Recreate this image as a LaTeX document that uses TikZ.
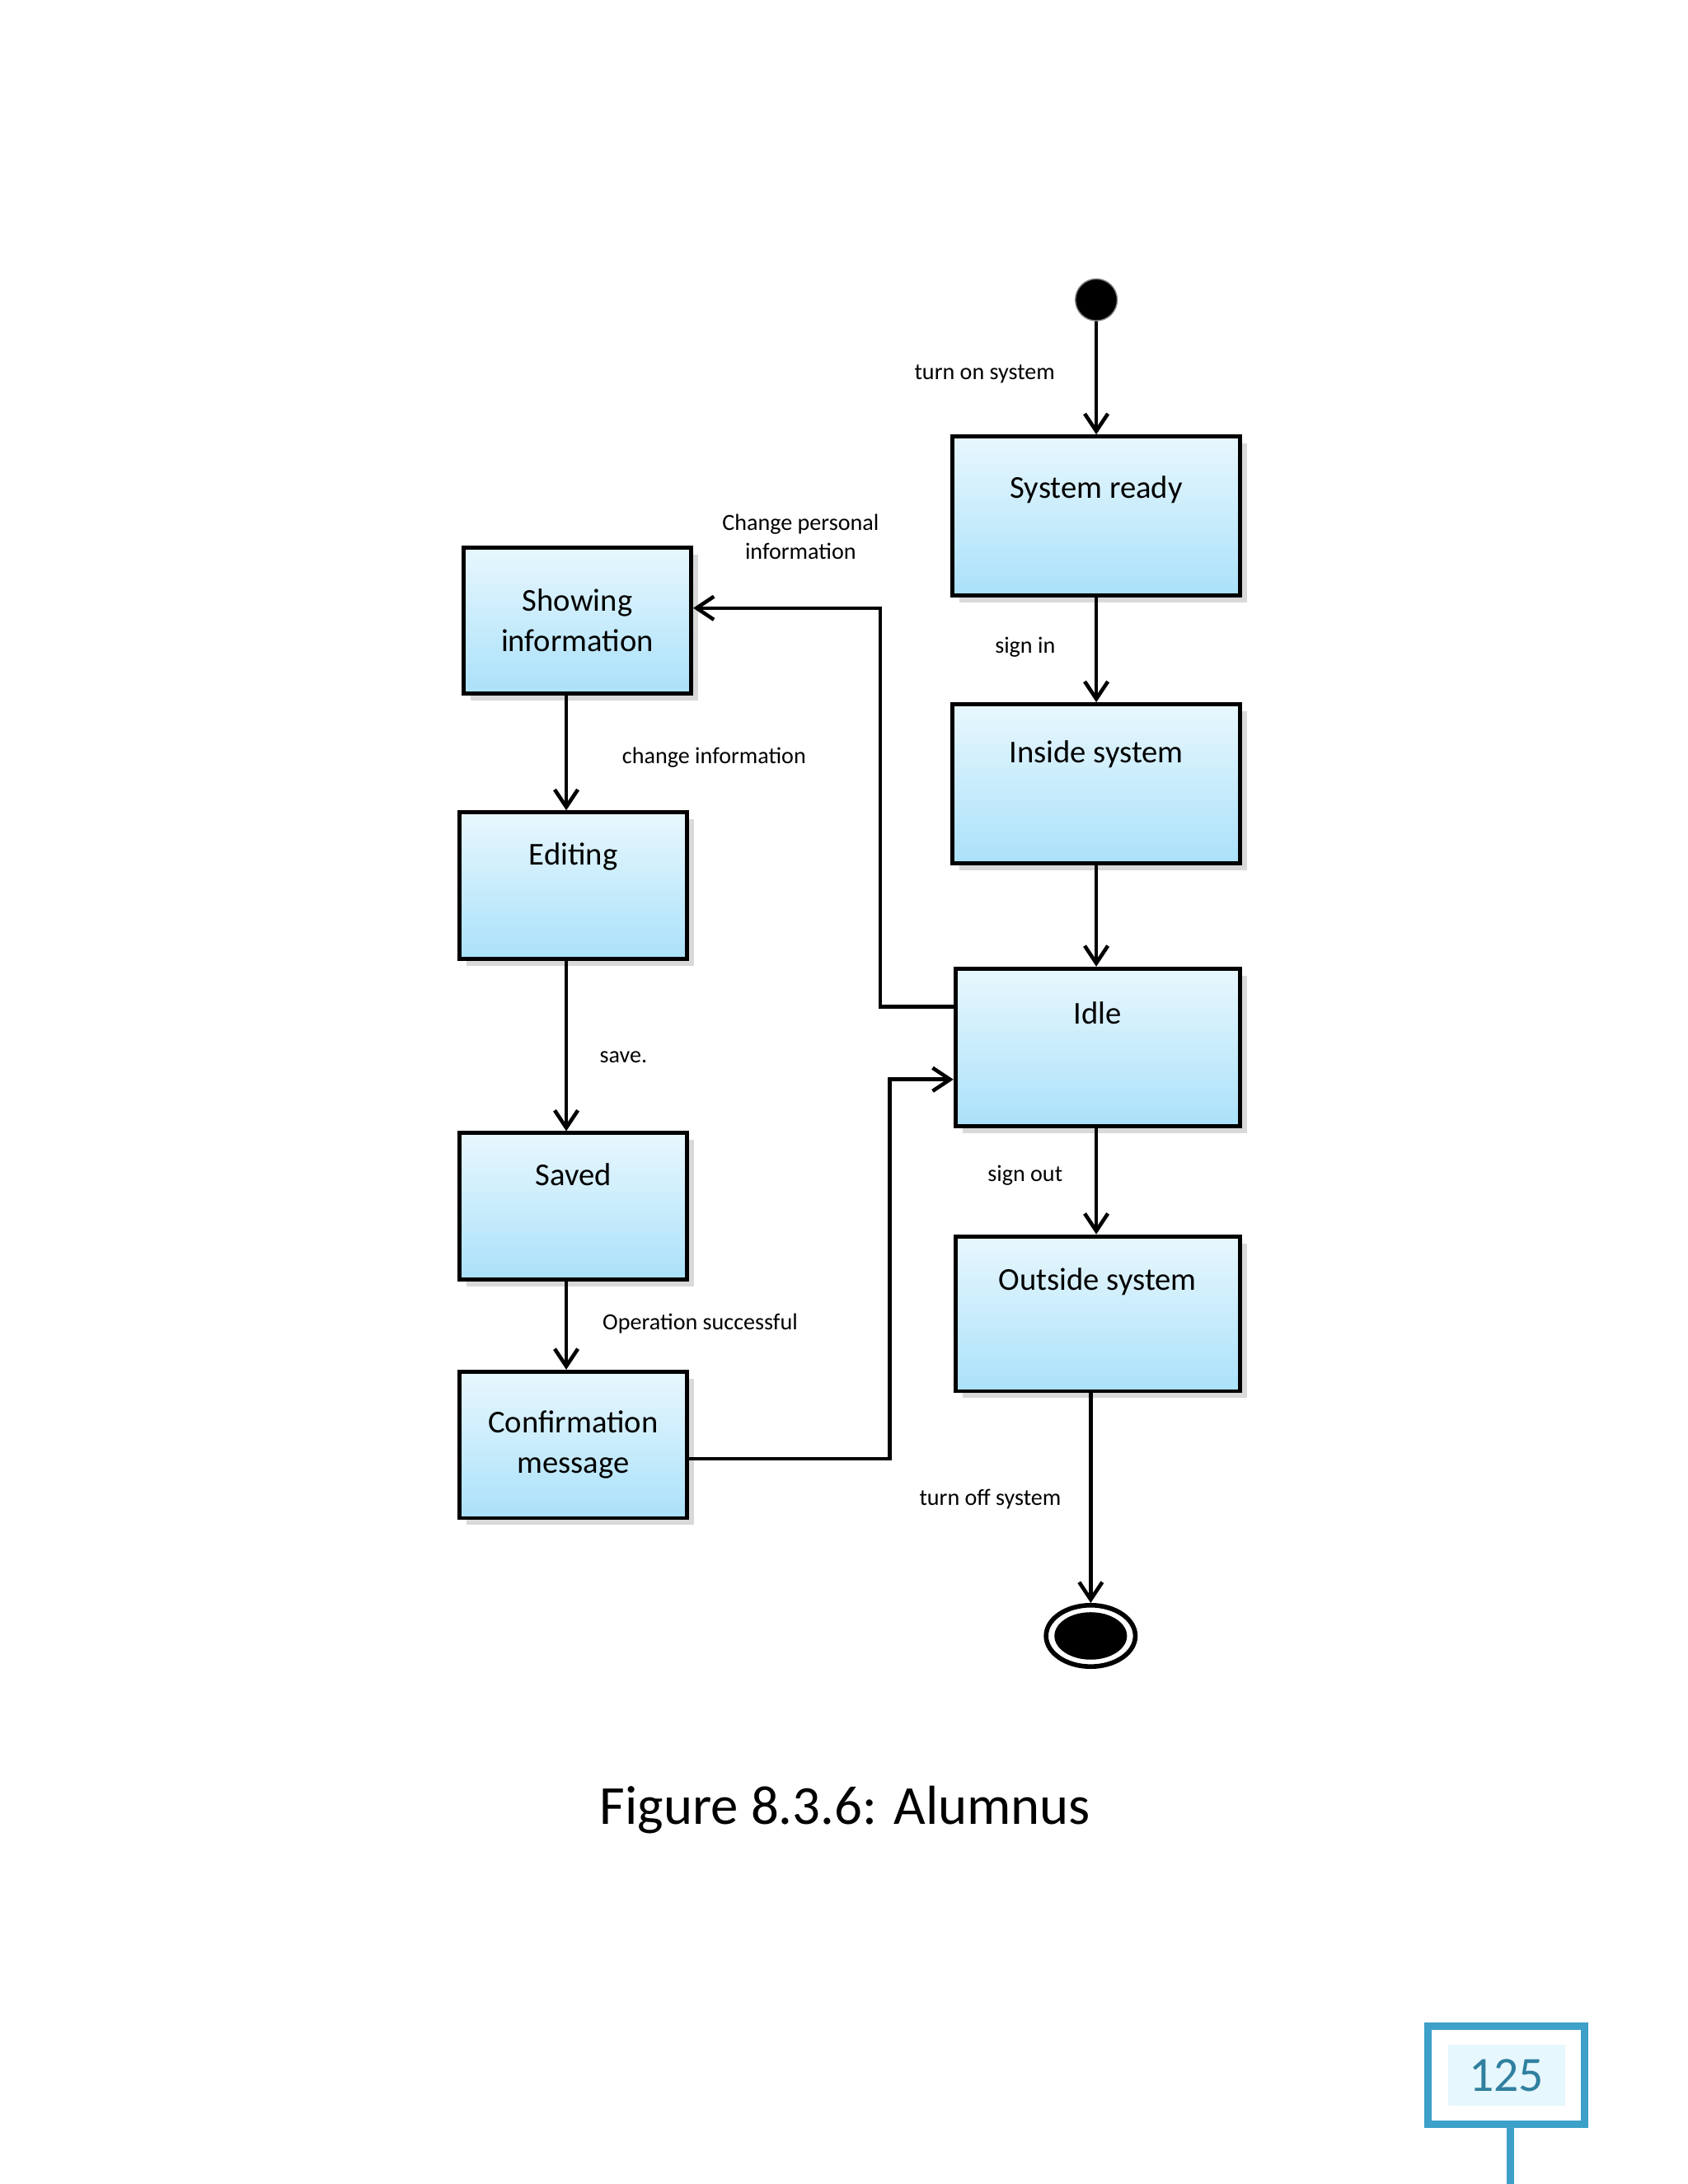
\documentclass[tikz,border=0pt]{standalone}
\usepackage{fontspec}
\setmainfont{Carlito}
\usetikzlibrary{arrows.meta,shadows,shapes.geometric}
\definecolor{boxlo}{RGB}{170,225,250}
\definecolor{boxhi}{RGB}{232,247,253}
\definecolor{pgline}{RGB}{60,160,200}
\begin{document}
\begin{tikzpicture}[x=0.016925cm,y=-0.016925cm,
  state/.style={draw,line width=1.4pt,top color=boxhi,bottom color=boxlo,drop shadow={opacity=0.3},
    align=center,font=\fontsize{11}{14}\selectfont,inner sep=0pt},
  lbl/.style={font=\fontsize{8}{10}\selectfont,align=center},
  arr/.style={line width=1.3pt,-{Straight Barb[length=6pt,width=8pt]}}]
\useasboundingbox (0,0) rectangle (1210,1566);
\node[state,minimum width=206*0.016925cm,minimum height=114*0.016925cm] (ready) at (786,370) {System ready\\[6pt]};
\node[state,minimum width=206*0.016925cm,minimum height=114*0.016925cm] (inside) at (786,562) {Inside system\\[8pt]};
\node[state,minimum width=204*0.016925cm,minimum height=113*0.016925cm] (idle) at (787,751) {Idle\\[10pt]};
\node[state,minimum width=204*0.016925cm,minimum height=111*0.016925cm] (outside) at (787,942) {Outside system\\[10pt]};
\node[state,minimum width=163*0.016925cm,minimum height=105*0.016925cm] (show) at (414,445) {Showing\\information};
\node[state,minimum width=163*0.016925cm,minimum height=105*0.016925cm] (edit) at (411,635) {Editing\\[8pt]};
\node[state,minimum width=163*0.016925cm,minimum height=105*0.016925cm] (saved) at (411,865) {Saved\\[8pt]};
\node[state,minimum width=163*0.016925cm,minimum height=105*0.016925cm] (conf) at (411,1036) {Confirmation\\message};
\node[circle,fill=black,draw=gray,minimum size=30*0.016925cm,inner sep=0pt] (init) at (786,215) {};
\node[ellipse,draw,line width=1.6pt,minimum width=64*0.016925cm,minimum height=44*0.016925cm,inner sep=0pt] (final) at (782,1173) {};
\fill (final.center) ellipse (26 and 17);
\coordinate (a1) at (631,722); \coordinate (a2) at (631,436);
\coordinate (b1) at (638,1046); \coordinate (b2) at (638,774);
\coordinate (c1) at (406,0);
\draw[arr] (init) -- (ready);
\draw[arr] (ready) -- (inside);
\draw[arr] (inside) -- (idle.north -| inside);
\draw[arr] (idle.south -| inside) -- (outside.north -| inside);
\draw[arr] (outside.south -| final) -- (final);
\draw[arr] (show.south -| c1) -- (edit.north -| c1);
\draw[arr] (edit.south -| c1) -- (saved.north -| c1);
\draw[arr] (saved.south -| c1) -- (conf.north -| c1);
\draw[arr] (idle.west |- a1) -- (a1) -- (a2) -- (show.east |- a2);
\draw[arr] (conf.east |- b1) -- (b1) -- (b2) -- (idle.west |- b2);
\node[lbl] at (706,268) {turn on system};
\node[lbl] at (574,385) {Change personal\\information};
\node[lbl] at (735,464) {sign in};
\node[lbl] at (512,543) {change information};
\node[lbl] at (447,758) {save.};
\node[lbl] at (735,843) {sign out};
\node[lbl] at (502,949) {Operation successful};
\node[lbl] at (710,1075) {turn off system};
\node[font=\fontsize{19}{22}\selectfont] at (606,1298) {Figure 8.3.6: Alumnus};
\draw[line width=2.5pt,draw=pgline] (1024,1453) rectangle (1136,1523);
\fill[cyan!10] (1038,1466) rectangle (1122,1510);
\node[font=\fontsize{17}{20}\selectfont,text=pgline!80!black] at (1080,1488) {125};
\draw[line width=2.5pt,draw=pgline] (1083,1523) -- (1083,1566);
\end{tikzpicture}
\end{document}
